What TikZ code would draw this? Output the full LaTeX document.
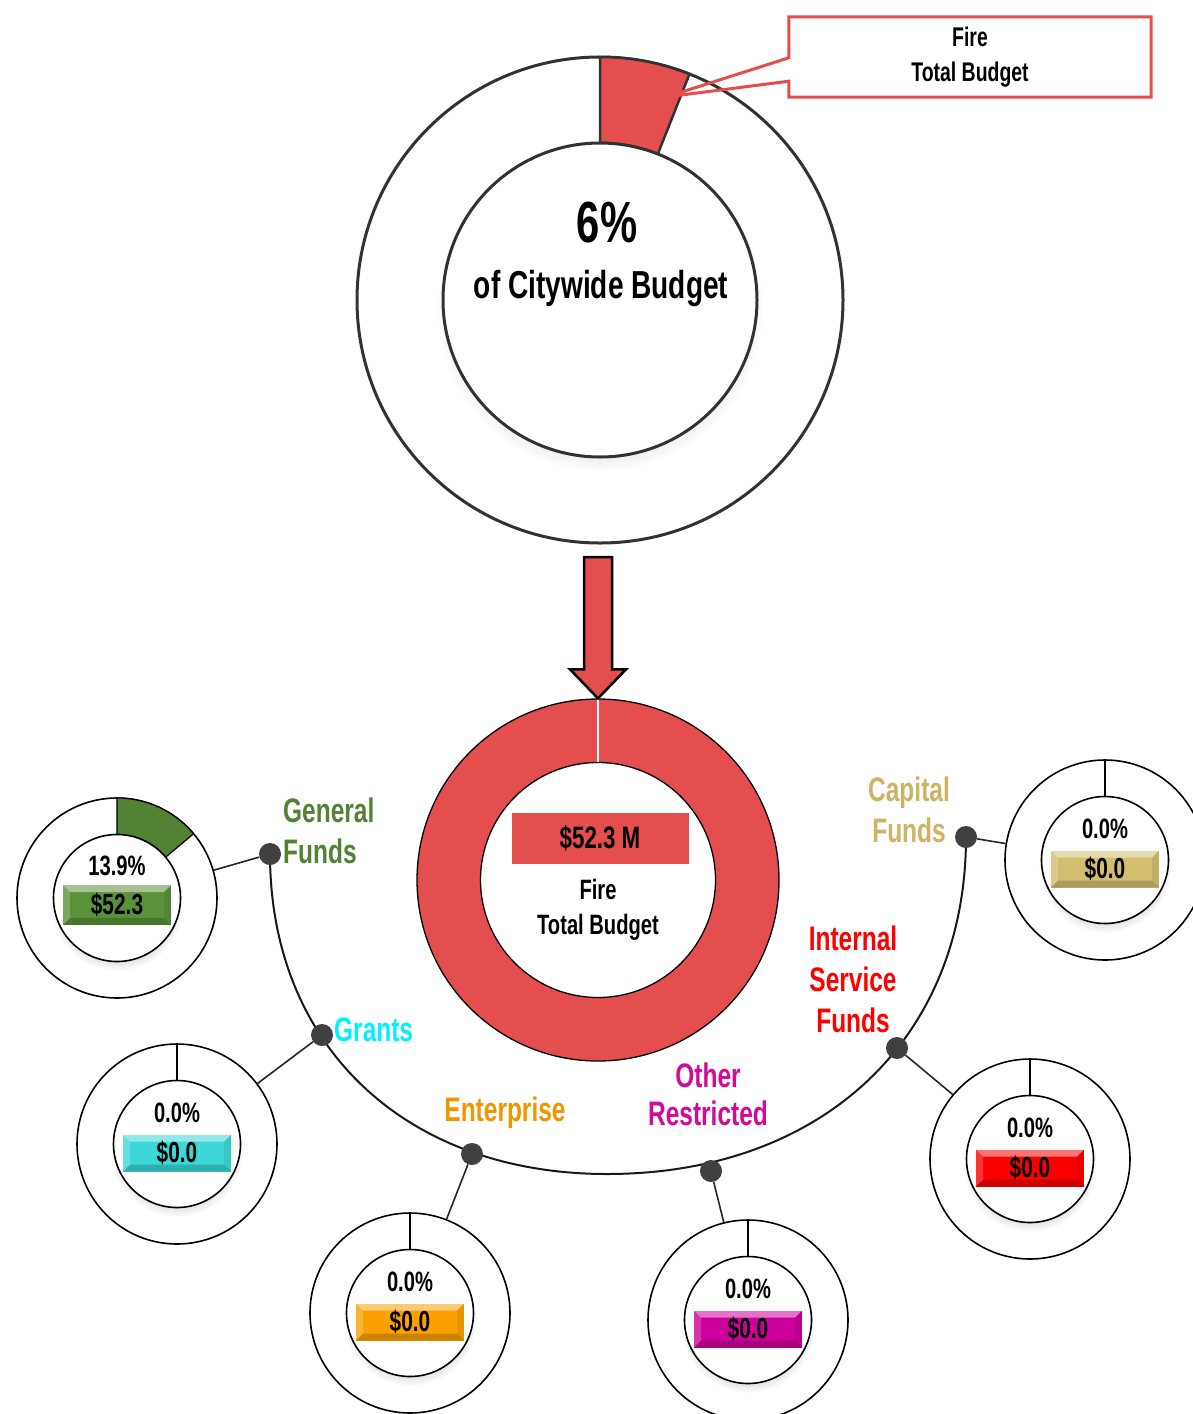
\documentclass[tikz,border=0pt]{standalone}
\usepackage{fontspec}
\setmainfont{Liberation Sans}[FakeStretch=0.72]
\usetikzlibrary{calc,shadows}

\definecolor{firered}{RGB}{228,78,78}
\definecolor{ringgray}{RGB}{50,50,50}
\definecolor{dotgray}{RGB}{64,64,64}
\definecolor{genfg}{RGB}{84,130,53}
\definecolor{genbox}{RGB}{90,145,58}
\definecolor{grantfg}{RGB}{0,240,255}
\definecolor{grantbox}{RGB}{60,215,215}
\definecolor{entfg}{RGB}{240,150,0}
\definecolor{entbox}{RGB}{250,160,0}
\definecolor{othfg}{RGB}{210,10,150}
\definecolor{othbox}{RGB}{205,0,155}
\definecolor{isffg}{RGB}{255,0,0}
\definecolor{isfbox}{RGB}{250,0,0}
\definecolor{capfg}{RGB}{205,180,100}
\definecolor{capbox}{RGB}{210,190,110}

\tikzset{
  ring/.style={circle, draw=black, line width=1.6pt, fill=white,
    minimum size=200pt, inner sep=0pt},
  hole/.style={circle, draw=black, line width=1.6pt, fill=white,
    minimum size=127pt, inner sep=0pt,
    circular drop shadow={shadow xshift=0pt, shadow yshift=-6pt,
      opacity=0.22, shadow scale=1.05}},
  pcttext/.style={font=\bfseries\fontsize{28pt}{28pt}\selectfont, text=black},
  valbox/.style={rectangle, minimum width=108pt, minimum height=37pt,
    inner sep=0pt, fill=#1, text=black,
    font=\bfseries\fontsize{29pt}{29pt}\selectfont,
    path picture={
      \fill[white, opacity=0.45] (path picture bounding box.north west)
        -- (path picture bounding box.north east)
        -- ([shift={(-7pt,-7pt)}]path picture bounding box.north east)
        -- ([shift={(7pt,-7pt)}]path picture bounding box.north west) -- cycle;
      \fill[black, opacity=0.18] (path picture bounding box.south west)
        -- (path picture bounding box.south east)
        -- ([shift={(-7pt,7pt)}]path picture bounding box.south east)
        -- ([shift={(7pt,7pt)}]path picture bounding box.south west) -- cycle;
      \fill[white, opacity=0.2] (path picture bounding box.north west)
        -- ([shift={(7pt,-7pt)}]path picture bounding box.north west)
        -- ([shift={(7pt,7pt)}]path picture bounding box.south west)
        -- (path picture bounding box.south west) -- cycle;
      \fill[black, opacity=0.08] (path picture bounding box.north east)
        -- ([shift={(-7pt,-7pt)}]path picture bounding box.north east)
        -- ([shift={(-7pt,7pt)}]path picture bounding box.south east)
        -- (path picture bounding box.south east) -- cycle;
    }},
  fdot/.style={circle, fill=dotgray, minimum size=22pt, inner sep=0pt},
  link/.style={line width=1.6pt, draw=black!85},
  fundlabel/.style={font=\bfseries\fontsize{34pt}{41pt}\selectfont, align=center, inner sep=0pt},
  bigtext/.style={font=\bfseries\fontsize{28pt}{35pt}\selectfont, align=center, text=black},
}

% one fund ring: name, centre, percentage, box colour, amount
\newcommand\fundring[5]{%
  \node[ring] (#1) at (#2) {};
  \node[hole] (#1in) at (#2) {};
  \draw[line width=1.6pt] (#1.north) -- (#1in.north);
  \node[pcttext] (#1pct) at ($(#1)+(0,-31)$) {#3};
  \node[valbox=#4] (#1val) at ($(#1)+(0,9)$) {#5};
}

\begin{document}
\begin{tikzpicture}[x=1pt, y=-1pt]
\useasboundingbox (0,0) rectangle (1192,1414);
\fill[white] (0,0) rectangle (1192,1414);

% ---------- citywide donut ----------
\node[circle, draw=ringgray, line width=3pt, fill=white, minimum size=486pt,
      inner sep=0pt] (city) at (600,300) {};
\fill[firered, draw=ringgray, line width=2.5pt]
  ($(city.center)+(90:243pt)$) arc[start angle=90, end angle=68.4, radius=243pt]
  -- ($(city.center)+(68.4:157pt)$) arc[start angle=68.4, end angle=90, radius=157pt]
  -- cycle;
\node[circle, draw=ringgray, line width=3pt, fill=white, minimum size=314pt,
      inner sep=0pt,
      circular drop shadow={shadow xshift=0pt, shadow yshift=-8pt, opacity=0.2, shadow scale=1.04}]
      (cityin) at (600,300) {};
\node[font=\bfseries\fontsize{58pt}{58pt}\selectfont] (pct) at (607,223) {6\%};
\node[font=\bfseries\fontsize{39pt}{39pt}\selectfont] (citytxt) at (601,288) {of Citywide Budget};

% ---------- callout ----------
\coordinate (tip) at (666,97);
\node[minimum width=362pt, minimum height=80pt, inner sep=0pt,
      font=\bfseries\fontsize{27pt}{35pt}\selectfont, align=center]
      (callout) at (970,57) {Fire\\Total Budget};
\draw[draw=firered, line width=3pt, line join=miter]
  (callout.north west) -- (callout.north east) -- (callout.south east)
  -- (callout.south west) -- ($(callout.south west)+(0,-16)$) -- (tip)
  -- ($(callout.north west)+(0,41)$) -- cycle;

% ---------- fire donut ----------
\node[circle, fill=firered, draw=black, line width=1.3pt, minimum size=362pt,
      inner sep=0pt] (fire) at (598,880) {};
\node[circle, fill=white, draw=black, line width=1.3pt, minimum size=235pt,
      inner sep=0pt] (firein) at (598,880) {};
\draw[white, line width=1.3pt] (fire.north) -- (firein.north);
\node[rectangle, fill=firered, minimum width=177pt, minimum height=51pt,
      inner sep=0pt, font=\bfseries\fontsize{31pt}{31pt}\selectfont]
      (firetotal) at (600,838) {\$52.3 M};
\node[bigtext] (firename) at (598,910) {Fire\\Total Budget};

% ---------- arrow between the donuts ----------
\coordinate (atop) at (598,557);
\filldraw[fill=firered, draw=black, line width=2.5pt, line join=miter]
  ($(atop)+(-14,0)$) -- ($(atop)+(14,0)$) -- ($(fire.north)+(14,-29)$)
  -- ($(fire.north)+(28,-29)$) -- (fire.north) -- ($(fire.north)+(-28,-29)$)
  -- ($(fire.north)+(-14,-29)$) -- cycle;

% ---------- fund arc ----------
\coordinate (arcL) at (270,854);
\coordinate (arcB) at (607,1174);
\coordinate (arcR) at (966,837);
\draw[line width=2pt, black!90]
  (arcL) .. controls (270,1046) and (405,1174) .. (arcB)
         .. controls (822,1174) and (966,1039) .. (arcR);

% ---------- fund rings ----------
\node[ring] (gen) at (117,898) {};
\fill[genfg, draw=black, line width=1.2pt]
  ($(gen.center)+(90:100pt)$) arc[start angle=90, end angle=40, radius=100pt]
  -- ($(gen.center)+(40:63.5pt)$) arc[start angle=40, end angle=90, radius=63.5pt]
  -- cycle;
\node[hole] (genin) at (117,898) {};
\node[pcttext] (genpct) at ($(gen)+(0,-32)$) {13.9\%};
\node[valbox=genbox, minimum height=40pt] (genval) at ($(gen)+(0,7)$) {\$52.3};

\fundring{grant}{177,1144}{0.0\%}{grantbox}{\$0.0}
\fundring{ent}{410,1313}{0.0\%}{entbox}{\$0.0}
\fundring{oth}{748,1320}{0.0\%}{othbox}{\$0.0}
\fundring{isf}{1030,1159}{0.0\%}{isfbox}{\$0.0}
\fundring{cap}{1105,860}{0.0\%}{capbox}{\$0.0}

% ---------- dots and links ----------
\node[fdot] (gdot) at (arcL) {};
\node[fdot] (grdot) at (322,1035) {};
\node[fdot] (edot) at (472,1154) {};
\node[fdot] (odot) at (711,1171) {};
\node[fdot] (idot) at (897,1048) {};
\node[fdot] (cdot) at (arcR) {};
\draw[link] (gdot) -- (gen);
\draw[link] (grdot) -- (grant);
\draw[link] (edot) -- (ent);
\draw[link] (odot) -- (oth);
\draw[link] (idot) -- (isf);
\draw[link] (cdot) -- (cap);

% ---------- fund labels ----------
\node[fundlabel, text=genfg, align=left, anchor=west] (genlbl) at (283,831) {General\\Funds};
\node[fundlabel, text=grantfg, anchor=west] (grantlbl) at (334,1030) {Grants};
\node[fundlabel, text=entfg] (entlbl) at (505,1113) {Enterprise};
\node[fundlabel, text=othfg, font=\bfseries\fontsize{34pt}{38pt}\selectfont] (othlbl) at (708,1094) {Other\\Restricted};
\node[fundlabel, text=isffg] (isflbl) at (853,979) {Internal\\Service\\Funds};
\node[fundlabel, text=capfg] (caplbl) at (909,810) {Capital\\Funds};
\end{tikzpicture}
\end{document}
